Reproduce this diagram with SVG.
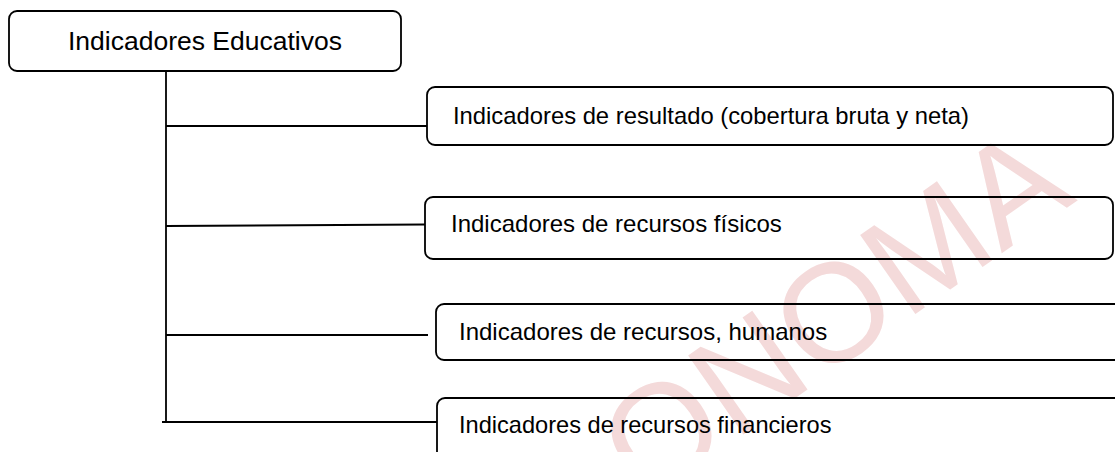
<svg xmlns="http://www.w3.org/2000/svg" width="1115" height="452" viewBox="0 0 1115 452">
<style>
.box{fill:none;stroke:#000;stroke-width:1.8}
.conn{fill:none;stroke:#000;stroke-width:1.8}
.t{font-family:"Liberation Sans",Arial,sans-serif;fill:#000}
.wm{font-family:"Liberation Sans",Arial,sans-serif;fill:#f4dada}
</style>
<rect width="1115" height="452" fill="#fff"/>
<g id="watermark">
<text class="wm" font-size="140" text-anchor="end" transform="translate(1078,200) rotate(-35)">ONOMA</text>
</g>
<g id="connectors">
<line class="conn" x1="166" y1="71" x2="166" y2="422"/>
<line class="conn" x1="166" y1="126" x2="427" y2="126"/>
<line class="conn" x1="166" y1="226" x2="425" y2="224.5"/>
<line class="conn" x1="166" y1="335" x2="428" y2="335"/>
<line class="conn" x1="162" y1="422" x2="437" y2="422"/>
</g>
<g id="root">
<rect class="box" x="9" y="11" width="392" height="60" rx="8"/>
<text class="t" x="205" y="50" font-size="26.5" text-anchor="middle">Indicadores Educativos</text>
</g>
<g id="n1">
<rect class="box" x="427" y="87" width="686" height="58" rx="8"/>
<text class="t" x="453" y="124" font-size="23.8">Indicadores de resultado (cobertura bruta y neta)</text>
</g>
<g id="n2">
<rect class="box" x="425" y="197" width="688" height="62" rx="8"/>
<text class="t" x="451" y="232" font-size="24">Indicadores de recursos físicos</text>
</g>
<g id="n3">
<rect class="box" x="436" y="304" width="700" height="56" rx="8"/>
<text class="t" x="459" y="340" font-size="24">Indicadores de recursos, humanos</text>
</g>
<g id="n4">
<rect class="box" x="437" y="398" width="700" height="80" rx="8"/>
<text class="t" x="459" y="433" font-size="23.6">Indicadores de recursos financieros</text>
</g>
</svg>
